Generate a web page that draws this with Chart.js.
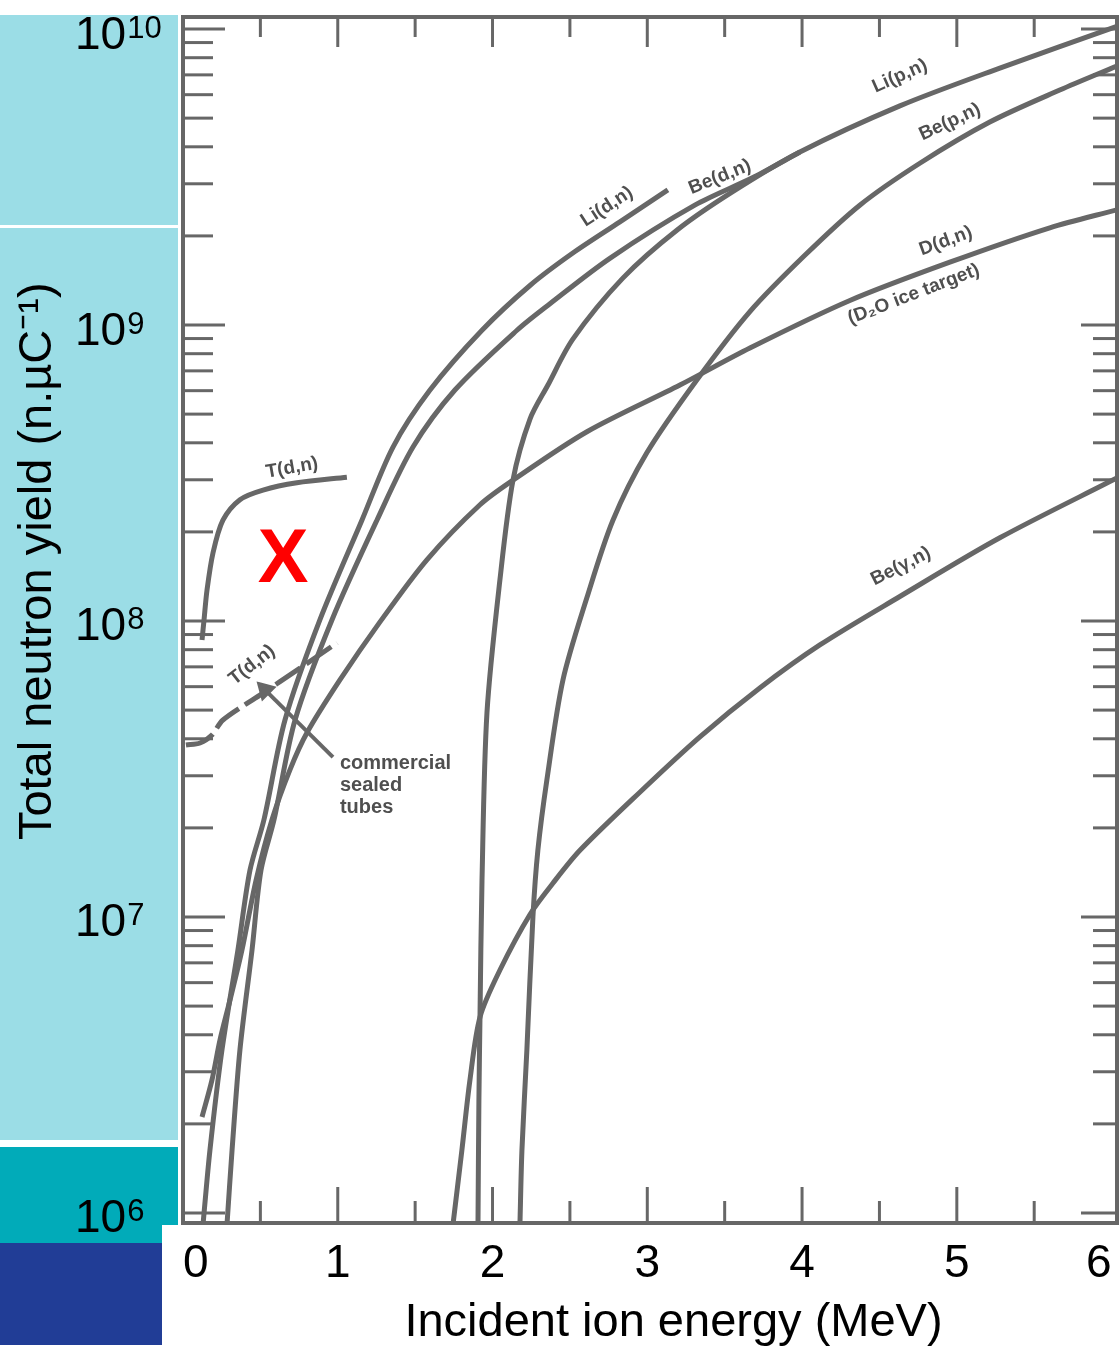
<!DOCTYPE html>
<html>
<head>
<meta charset="utf-8">
<title>Total neutron yield</title>
<script src="https://cdn.jsdelivr.net/npm/chart.js@4.4.1/dist/chart.umd.min.js"></script>
<style>
  html, body { margin: 0; padding: 0; background: #fff; }
  #wrap { width: 1120px; height: 1352px; }
</style>
</head>
<body>
<div id="wrap"><canvas id="yieldChart" width="1120" height="1352"></canvas></div>
<script>
// Incident ion energy (MeV) and total neutron yield (n per uC)
const liDnE = [0.129, 0.174, 0.252, 0.355, 0.433, 0.523, 0.659, 0.885, 1.156, 1.357, 1.596, 1.932, 2.242, 2.519, 2.823, 3.133];
const liDnY = [9.1e5, 1.63e6, 3.56e6, 7.74e6, 1.44e7, 2.13e7, 4.63e7, 1.01e8, 2.19e8, 3.87e8, 6.03e8, 9.6e8, 1.36e9, 1.75e9, 2.23e9, 2.86e9];

const beDnE = [0.284, 0.317, 0.368, 0.446, 0.504, 0.588, 0.724, 0.963, 1.253, 1.486, 1.757, 2.158, 2.371, 2.758, 3.307, 3.689, 3.986];
const beDnY = [9.1e5, 1.63e6, 3.56e6, 7.74e6, 1.44e7, 2.13e7, 4.63e7, 1.01e8, 2.19e8, 3.87e8, 6.03e8, 9.6e8, 1.18e9, 1.68e9, 2.54e9, 3.16e9, 3.84e9];

const liPnE = [1.906, 1.912, 1.919, 1.932, 1.964, 2.048, 2.132, 2.242, 2.358, 2.519, 2.842, 3.191, 3.547, 3.986, 4.632, 5.278, 6.034];
const liPnY = [9.1e5, 2.41e6, 4.59e6, 1.33e7, 4.89e7, 1.38e8, 2.99e8, 4.81e8, 6.27e8, 8.96e8, 1.44e9, 2.09e9, 2.81e9, 3.84e9, 5.5e9, 7.38e9, 1.02e10];

const bePnE = [2.177, 2.190, 2.222, 2.261, 2.293, 2.351, 2.455, 2.610, 2.778, 2.997, 3.320, 3.663, 4.018, 4.373, 4.761, 5.213, 5.665, 6.034];
const bePnY = [9.1e5, 1.63e6, 3.56e6, 1.0e7, 1.68e7, 2.9e7, 6.32e7, 1.2e8, 2.19e8, 3.7e8, 6.52e8, 1.11e9, 1.72e9, 2.54e9, 3.52e9, 4.85e9, 6.22e9, 7.5e9];

const dDnE = [0.123, 0.187, 0.239, 0.304, 0.381, 0.472, 0.575, 0.691, 0.801, 1.014, 1.273, 1.576, 1.919, 2.132, 2.610, 3.211, 3.663, 4.309, 4.955, 5.601, 6.034];
const dDnY = [2.11e6, 2.81e6, 3.84e6, 5.25e6, 7.74e6, 1.33e7, 2.13e7, 3.14e7, 4.19e7, 6.32e7, 9.93e7, 1.61e8, 2.47e8, 2.99e8, 4.36e8, 6.27e8, 8.36e8, 1.21e9, 1.63e9, 2.13e9, 2.45e9];

const tDnE = [0.123, 0.136, 0.155, 0.194, 0.258, 0.368, 0.517, 0.736, 1.059];
const tDnY = [8.63e7, 1.01e8, 1.27e8, 1.7e8, 2.19e8, 2.57e8, 2.77e8, 2.93e8, 3.06e8];

// T(d,n), commercial sealed tubes
const tDnTubeE = [0.019, 0.110, 0.187, 0.258, 0.497, 0.756, 0.995];
const tDnTubeY = [3.81e7, 3.87e7, 4.12e7, 4.63e7, 5.62e7, 6.93e7, 8.44e7];

const beGnE = [1.744, 1.802, 1.854, 1.919, 2.048, 2.242, 2.390, 2.565, 2.952, 3.340, 3.727, 4.115, 4.632, 5.278, 6.034];
const beGnY = [9.1e5, 1.63e6, 2.81e6, 4.59e6, 6.62e6, 1.02e7, 1.3e7, 1.68e7, 2.64e7, 4.06e7, 5.94e7, 8.3e7, 1.21e8, 1.91e8, 3.04e8];

// pointer from the "commercial sealed tubes" note to the dashed curve
const arrowE = [0.969, 0.530];
const arrowY = [3.47e7, 5.85e7];

const xTicks = [0, 1, 2, 3, 4, 5, 6];
const yTicks = [1e6, 1e7, 1e8, 1e9, 1e10];

// labels written on the scan, anchored in data units
const curveLabels = ['Li(d,n)', 'Be(d,n)', 'Li(p,n)', 'Be(p,n)', 'D(d,n)', '(D\u2082O ice target)', 'Be(\u03b3,n)', 'T(d,n)', 'T(d,n)'];
const curveLabelE = [2.739, 3.469, 4.632, 4.955, 4.929, 4.722, 4.638, 0.704, 0.446];
const curveLabelY = [2.51e9, 3.16e9, 6.93e9, 4.85e9, 1.92e9, 1.27e9, 1.53e8, 3.29e8, 7.1e7];
const noteLines = ['commercial', 'sealed', 'tubes'];
const noteE = 1.014;
const noteY = 3.31e7;
const markE = 0.646;
const markY = 1.67e8;

// ---- look ----
const font = "'Liberation Sans', Arial, Helvetica, sans-serif";
const scanGrey = '#676767';
const labelAngles = [-33, -22, -24, -25, -20, -21, -27, -10, -38];

function pts(xs, ys) {
  return xs.map((e, i) => ({ x: e, y: ys[i] }));
}

function curve(label, xs, ys, extra) {
  return Object.assign({
    label: label,
    data: pts(xs, ys),
    borderColor: scanGrey,
    borderWidth: 5,
    pointRadius: 0,
    tension: 0.3,
    fill: false
  }, extra || {});
}

function seg(ctx, x1, y1, x2, y2) {
  ctx.beginPath();
  ctx.moveTo(x1, y1);
  ctx.lineTo(x2, y2);
  ctx.stroke();
}

const scanDecor = {
  id: 'scanDecor',
  beforeDraw(chart) {
    const ctx = chart.ctx;
    ctx.save();
    // coloured side panel behind the y labels
    ctx.fillStyle = '#9bdde6';
    ctx.fillRect(0, 15, 178, 210);
    ctx.fillRect(0, 228, 178, 912);
    ctx.fillStyle = '#01abb9';
    ctx.fillRect(0, 1147, 178, 78);
    ctx.fillRect(0, 1225, 162, 18);
    ctx.fillStyle = '#213d96';
    ctx.fillRect(0, 1243, 162, 102);
    ctx.restore();
  },
  beforeDatasetsDraw(chart) {
    const { ctx, chartArea: a, scales: { x, y } } = chart;
    ctx.save();
    ctx.strokeStyle = scanGrey;
    ctx.lineWidth = 4;
    ctx.strokeRect(a.left, a.top, a.right - a.left, a.bottom - a.top);
    ctx.lineWidth = 3;
    for (let e = 0.5; e < 5.9; e += 0.5) {
      const px = x.getPixelForValue(e);
      const major = Math.abs(e - Math.round(e)) < 1e-6;
      seg(ctx, px, a.top, px, a.top + (major ? 30 : 20));
      seg(ctx, px, a.bottom, px, a.bottom - (major ? 36 : 22));
    }
    for (let k = 5; k <= 10; k++) {
      for (let m = 1; m <= 9; m++) {
        const v = m * Math.pow(10, k);
        if (v < y.min || v > y.max) continue;
        const py = y.getPixelForValue(v);
        seg(ctx, a.left, py, a.left + (m === 1 ? 42 : 30), py);
        seg(ctx, a.right, py, a.right - (m === 1 ? 36 : 24), py);
      }
    }
    ctx.restore();
  },
  afterDatasetsDraw(chart) {
    const { ctx, scales: { x, y } } = chart;
    ctx.save();

    // decade labels 10^n
    ctx.fillStyle = '#000';
    ctx.textAlign = 'left';
    ctx.textBaseline = 'alphabetic';
    yTicks.forEach(v => {
      const py = y.getPixelForValue(v) + 3;
      ctx.font = '46px ' + font;
      ctx.fillText('10', 75, py + 16.5);
      const w = ctx.measureText('10').width;
      ctx.font = '31px ' + font;
      ctx.fillText(String(Math.round(Math.log10(v))), 75 + w + 1, py + 5.5);
    });

    // hand-lettered curve names
    ctx.fillStyle = '#4f4f4f';
    ctx.font = 'bold 19px ' + font;
    ctx.textAlign = 'center';
    ctx.textBaseline = 'middle';
    curveLabels.forEach((t, i) => {
      ctx.save();
      ctx.translate(x.getPixelForValue(curveLabelE[i]), y.getPixelForValue(curveLabelY[i]));
      ctx.rotate(labelAngles[i] * Math.PI / 180);
      ctx.fillText(t, 0, 0);
      ctx.restore();
    });

    ctx.font = 'bold 20px ' + font;
    ctx.textAlign = 'left';
    const nx = x.getPixelForValue(noteE);
    const ny = y.getPixelForValue(noteY);
    noteLines.forEach((t, i) => ctx.fillText(t, nx, ny + i * 22));

    // red cross
    ctx.fillStyle = '#ff0000';
    ctx.font = 'bold 76px ' + font;
    ctx.textAlign = 'center';
    ctx.textBaseline = 'alphabetic';
    ctx.fillText('X', x.getPixelForValue(markE), y.getPixelForValue(markY) + 27);
    ctx.restore();
  }
};

new Chart(document.getElementById('yieldChart'), {
  type: 'line',
  data: {
    datasets: [
      curve('Li(d,n)', liDnE, liDnY),
      curve('Be(d,n)', beDnE, beDnY),
      curve('Li(p,n)', liPnE, liPnY),
      curve('Be(p,n)', bePnE, bePnY),
      curve('D(d,n)', dDnE, dDnY),
      curve('T(d,n)', tDnE, tDnY),
      curve('T(d,n) sealed tubes', tDnTubeE, tDnTubeY, { borderDash: [30, 7] }),
      curve('Be(\u03b3,n)', beGnE, beGnY),
      curve('pointer', arrowE, arrowY, {
        borderWidth: 4,
        tension: 0,
        pointRadius: [0, 8],
        pointStyle: 'triangle',
        rotation: -45,
        pointBackgroundColor: scanGrey,
        pointBorderColor: scanGrey
      })
    ]
  },
  options: {
    responsive: false,
    animation: false,
    layout: { autoPadding: false, padding: { top: 17, right: 3, bottom: 0, left: 0 } },
    plugins: {
      legend: { display: false },
      tooltip: { enabled: false }
    },
    scales: {
      x: {
        type: 'linear',
        min: 0,
        max: 6.035,
        afterBuildTicks: s => { s.ticks = xTicks.map(v => ({ value: v })); },
        afterFit: s => { s.height = 129; s.paddingLeft = 0; s.paddingRight = 0; },
        grid: { display: false, drawTicks: false },
        border: { display: false },
        ticks: {
          color: '#000',
          font: { family: font, size: 46, lineHeight: 1.2 },
          padding: 14,
          align: 'inner',
          maxRotation: 0,
          autoSkip: false
        },
        title: {
          display: true,
          text: '\u2003Incident ion energy (MeV)',
          color: '#000',
          font: { family: font, size: 47, lineHeight: 1.2 },
          padding: { top: 0, bottom: 1 }
        }
      },
      y: {
        type: 'logarithmic',
        min: 9.25e5,
        max: 1.098e10,
        afterBuildTicks: s => { s.ticks = yTicks.map(v => ({ value: v })); },
        afterFit: s => { s.width = 183; s.paddingTop = 0; s.paddingBottom = 0; },
        grid: { display: false, drawTicks: false },
        border: { display: false },
        ticks: { display: false },
        title: {
          display: true,
          text: '\u2003\u2003\u2002Total neutron yield (n.\u00b5C\u207b\u00b9)',
          color: '#000',
          font: { family: font, size: 47, lineHeight: 1.2 },
          padding: { top: 10, bottom: 0 }
        }
      }
    }
  },
  plugins: [scanDecor]
});
</script>
</body>
</html>
